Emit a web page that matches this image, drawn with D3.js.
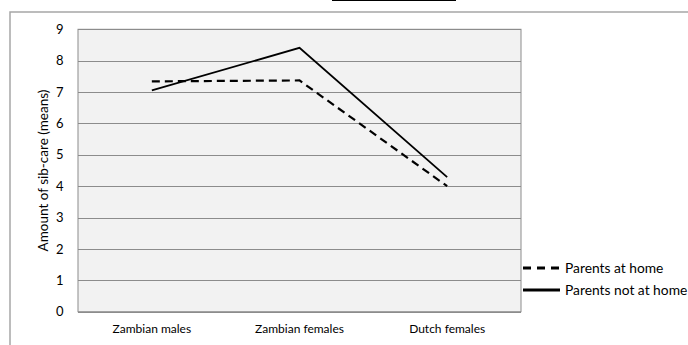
<!DOCTYPE html>
<html>
<head>
<meta charset="utf-8">
<script src="https://cdn.jsdelivr.net/npm/d3@7"></script>
<style>
  html, body { margin: 0; padding: 0; background: #ffffff; }
  svg { display: block; }
  text { font-family: Lato, "Open Sans", sans-serif; fill: #000; }
</style>
</head>
<body>
<svg id="chart" width="688" height="345"></svg>
<script>
// Groups on the x axis
const groups = ["Zambian males", "Zambian females", "Dutch females"];
// Mean amount of sib-care for each group
const parentsAtHome = [7.34, 7.37, 4.0];
const parentsNotAtHome = [7.05, 8.41, 4.29];
const seriesNames = ["Parents at home", "Parents not at home"];
const yTicks = [0, 1, 2, 3, 4, 5, 6, 7, 8, 9];
const yTitle = "Amount of sib-care (means)";

const svg = d3.select("#chart");

// Cut-off rule of the caption line above the chart
svg.append("line")
  .attr("x1", 332).attr("x2", 456).attr("y1", 0.5).attr("y2", 0.5)
  .attr("stroke", "#000").attr("stroke-width", 1.2);

// Chart frame (runs off the right and bottom edges)
svg.append("rect")
  .attr("x", 10).attr("y", 12)
  .attr("width", 720).attr("height", 400)
  .attr("fill", "#fff")
  .attr("stroke", "#a6a6a6").attr("stroke-width", 1.5);

const plot = { left: 78, right: 521, top: 29.3, bottom: 311.7 };

const x = d3.scaleBand().domain(groups).range([plot.left, plot.right]);
const y = d3.scaleLinear().domain([0, 9]).range([plot.bottom, plot.top]);

// Plot background
svg.append("rect")
  .attr("x", plot.left).attr("y", plot.top)
  .attr("width", plot.right - plot.left).attr("height", plot.bottom - plot.top)
  .attr("fill", "#f2f2f2")
  .attr("stroke", "#8c8c8c").attr("stroke-width", 1);

// Horizontal gridlines
svg.append("g").selectAll("line").data(yTicks).join("line")
  .attr("x1", plot.left).attr("x2", plot.right)
  .attr("y1", d => Math.round(y(d)) + 0.5).attr("y2", d => Math.round(y(d)) + 0.5)
  .attr("stroke", "#8c8c8c").attr("stroke-width", 1);

// Y axis labels
const yAxis = d3.axisLeft(y).tickValues(yTicks).tickSize(0).tickPadding(0).tickFormat(d3.format("d"));
const yg = svg.append("g").attr("transform", `translate(${plot.left - 14.5},0)`).call(yAxis);
yg.select(".domain").remove();
yg.selectAll("text").attr("font-size", 13).attr("font-family", "Lato, sans-serif").attr("fill", "#000");

// X axis labels
const xAxis = d3.axisBottom(x).tickSize(0).tickPadding(0);
const xg = svg.append("g").attr("transform", `translate(0,${plot.bottom + 13})`).call(xAxis);
xg.select(".domain").remove();
xg.selectAll("text").attr("font-size", 12).attr("font-family", "Lato, sans-serif").attr("fill", "#000");

// Y axis title
svg.append("text")
  .attr("transform", `translate(47.5,${(plot.top + plot.bottom) / 2}) rotate(-90)`)
  .attr("text-anchor", "middle")
  .attr("font-size", 13.5)
  .text(yTitle);

// Series lines
const line = d3.line()
  .x((d, i) => x(groups[i]) + x.bandwidth() / 2)
  .y(d => y(d));

svg.append("path").datum(parentsAtHome)
  .attr("d", line).attr("fill", "none")
  .attr("stroke", "#000").attr("stroke-width", 2.2)
  .attr("stroke-dasharray", "8,5");

svg.append("path").datum(parentsNotAtHome)
  .attr("d", line).attr("fill", "none")
  .attr("stroke", "#000").attr("stroke-width", 1.8);

// Legend
const legend = svg.append("g");
const legendY = [268, 290];
legend.selectAll("line").data(seriesNames).join("line")
  .attr("x1", 523).attr("x2", 560)
  .attr("y1", (d, i) => legendY[i]).attr("y2", (d, i) => legendY[i])
  .attr("stroke", "#000").attr("stroke-width", 3)
  .attr("stroke-dasharray", (d, i) => i === 0 ? "8,6" : null);
legend.selectAll("text").data(seriesNames).join("text")
  .attr("x", 565).attr("y", (d, i) => legendY[i])
  .attr("dy", "0.35em")
  .attr("font-size", 13.8)
  .text(d => d);
</script>
</body>
</html>
